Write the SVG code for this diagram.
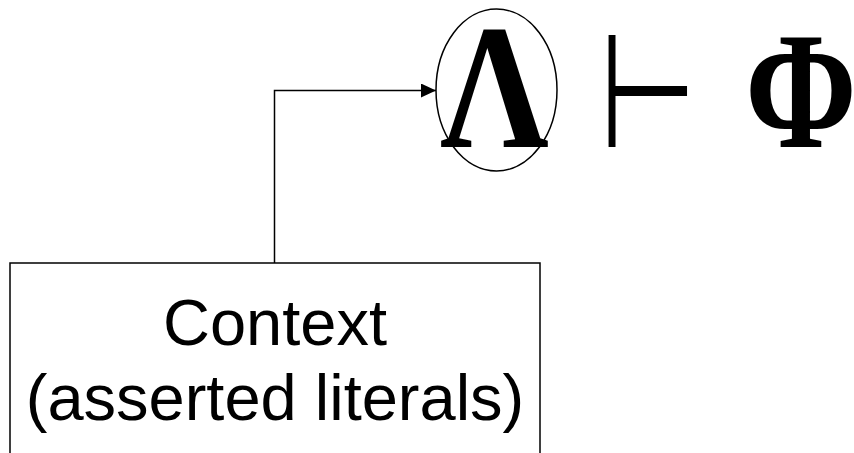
<svg xmlns="http://www.w3.org/2000/svg" width="854" height="453" viewBox="0 0 854 453">
<style>
.sym{font-family:"Liberation Serif","Times New Roman",serif;font-weight:bold;fill:#000;text-anchor:middle}
.lbl{font-family:"Liberation Sans",Arial,sans-serif;font-size:65px;fill:#000;text-anchor:middle}
.ln{fill:none;stroke:#000;stroke-width:1.5}
</style>
<defs>
<marker id="ah" markerWidth="15" markerHeight="14" refX="15" refY="7" orient="auto" markerUnits="userSpaceOnUse">
<path d="M0,0 L15,7 L0,14 Z" fill="#000"/>
</marker>
</defs>
<rect width="854" height="453" fill="#fff"/>
<g id="lambda">
<ellipse cx="496.5" cy="90" rx="60.5" ry="81" class="ln"/>
<text class="sym" x="0" y="147" font-size="178" transform="translate(494.5 0) scale(0.85 1)">Λ</text>
</g>
<g id="turnstile">
<text x="0" y="147" font-family="DejaVu Sans,sans-serif" font-weight="200" font-size="160" transform="translate(599 0) scale(0.7 1)">⊢</text>
</g>
<g id="phi">
<text class="sym" x="0" y="147" font-size="168" transform="translate(801 0) scale(0.8 1)">Φ</text>
</g>
<g id="context">
<rect x="10" y="263" width="530" height="200" class="ln"/>
<text class="lbl" x="275" y="345">Context</text>
<text class="lbl" x="275" y="420">(asserted literals)</text>
</g>
<g id="connectors">
<path d="M274.5,263 V90.5 H436" class="ln" marker-end="url(#ah)"/>
</g>
</svg>
